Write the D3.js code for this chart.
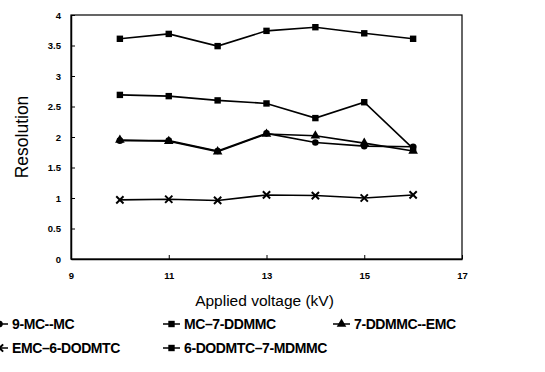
<!DOCTYPE html>
<html>
<head>
<meta charset="utf-8">
<script src="https://cdn.jsdelivr.net/npm/d3@7"></script>
<style>
  body { margin: 0; background: #fff; }
  text { font-family: "Liberation Sans", Arial, sans-serif; fill: #000; }
</style>
</head>
<body>
<svg id="chart"></svg>
<script>
const voltages = [10, 11, 12, 13, 14, 15, 16];
const xTicks = [9, 11, 13, 15, 17];
const yTicks = [0, 0.5, 1, 1.5, 2, 2.5, 3, 3.5, 4];

const mcMc = [1.94, 1.94, 1.77, 2.06, 1.91, 1.85, 1.84];
const mcDdmmc = [3.61, 3.69, 3.49, 3.74, 3.80, 3.70, 3.61];
const ddmmcEmc = [1.95, 1.93, 1.76, 2.05, 2.02, 1.90, 1.77];
const emcDodmtc = [0.97, 0.98, 0.96, 1.05, 1.04, 1.00, 1.05];
const dodmtcMdmmc = [2.69, 2.67, 2.60, 2.55, 2.31, 2.57, 1.81];

const seriesNames = ["9-MC--MC", "MC\u20137-DDMMC", "7-DDMMC--EMC", "EMC\u20136-DODMTC", "6-DODMTC\u20137-MDMMC"];
const seriesValues = [mcMc, mcDdmmc, ddmmcEmc, emcDodmtc, dodmtcMdmmc];
const seriesMarkers = ["circle", "square", "triangle", "cross", "square"];

const width = 545, height = 372;
const margin = { top: 15, right: 83, bottom: 113, left: 71 };

const svg = d3.select("#chart")
  .attr("width", width)
  .attr("height", height);

const x = d3.scaleLinear().domain([9, 17]).range([margin.left, width - margin.right]);
const y = d3.scaleLinear().domain([0, 4]).range([height - margin.bottom, margin.top]);

// frame
svg.append("rect")
  .attr("x", x(9)).attr("y", y(4))
  .attr("width", x(17) - x(9)).attr("height", y(0) - y(4))
  .attr("fill", "none").attr("stroke", "#000").attr("stroke-width", 1.2);

const xAxis = svg.append("g")
  .attr("transform", `translate(0,${y(0)})`)
  .call(d3.axisBottom(x).tickValues(xTicks).tickSizeInner(-4).tickSizeOuter(0).tickPadding(13));
const yAxis = svg.append("g")
  .attr("transform", `translate(${x(9)},0)`)
  .call(d3.axisLeft(y).tickValues(yTicks).tickSizeInner(-4).tickSizeOuter(0).tickPadding(10)
    .tickFormat(d => d));
[xAxis, yAxis].forEach(a => {
  a.select(".domain").attr("stroke", "#000").attr("stroke-width", 1.5);
  a.selectAll("line").attr("stroke", "#000");
  a.selectAll("text").attr("font-size", 9.5).attr("font-weight", "bold")
    .attr("font-family", "'Liberation Sans', Arial, sans-serif");
});

svg.append("text")
  .attr("x", (x(9) + x(17)) / 2 - 2).attr("y", 306)
  .attr("text-anchor", "middle").attr("font-size", 15.5)
  .text("Applied voltage (kV)");
svg.append("text")
  .attr("transform", `translate(28,${(y(0) + y(4)) / 2}) rotate(-90)`)
  .attr("text-anchor", "middle").attr("font-size", 17.5)
  .text("Resolution");

function drawMarker(g, type, cx, cy) {
  if (type === "circle") {
    g.append("circle").attr("cx", cx).attr("cy", cy).attr("r", 3.3).attr("fill", "#000");
  } else if (type === "square") {
    g.append("rect").attr("x", cx - 3.2).attr("y", cy - 3.2).attr("width", 6.4).attr("height", 6.4).attr("fill", "#000");
  } else if (type === "triangle") {
    g.append("path").attr("d", d3.symbol(d3.symbolTriangle, 40)()).attr("transform", `translate(${cx},${cy})`).attr("fill", "#000");
  } else {
    g.append("path").attr("d", d3.symbol(d3.symbolX, 36)()).attr("transform", `translate(${cx},${cy})`)
      .attr("fill", "none").attr("stroke", "#000").attr("stroke-width", 2);
  }
}

const line = d3.line().x((d, i) => x(voltages[i])).y(d => y(d));

seriesValues.forEach((vals, s) => {
  const g = svg.append("g");
  g.append("path").datum(vals).attr("d", line)
    .attr("fill", "none").attr("stroke", "#000").attr("stroke-width", 1.6);
  vals.forEach((v, i) => drawMarker(g, seriesMarkers[s], x(voltages[i]), y(v)));
});

// legend
const legendPos = [[-9, 329], [163, 329], [333, 329], [-9, 353], [163, 353]];
seriesNames.forEach((name, s) => {
  const [lx, ly] = legendPos[s];
  const g = svg.append("g").attr("transform", `translate(${lx},${ly - 5})`);
  g.append("line").attr("x1", 0).attr("x2", 17).attr("y1", 0).attr("y2", 0)
    .attr("stroke", "#000").attr("stroke-width", 1.5);
  drawMarker(g, seriesMarkers[s], 8.5, 0);
  g.append("text").attr("x", 21).attr("y", 5)
    .attr("font-size", 14).attr("font-weight", "bold").attr("letter-spacing", -0.4)
    .text(name);
});
</script>
</body>
</html>
